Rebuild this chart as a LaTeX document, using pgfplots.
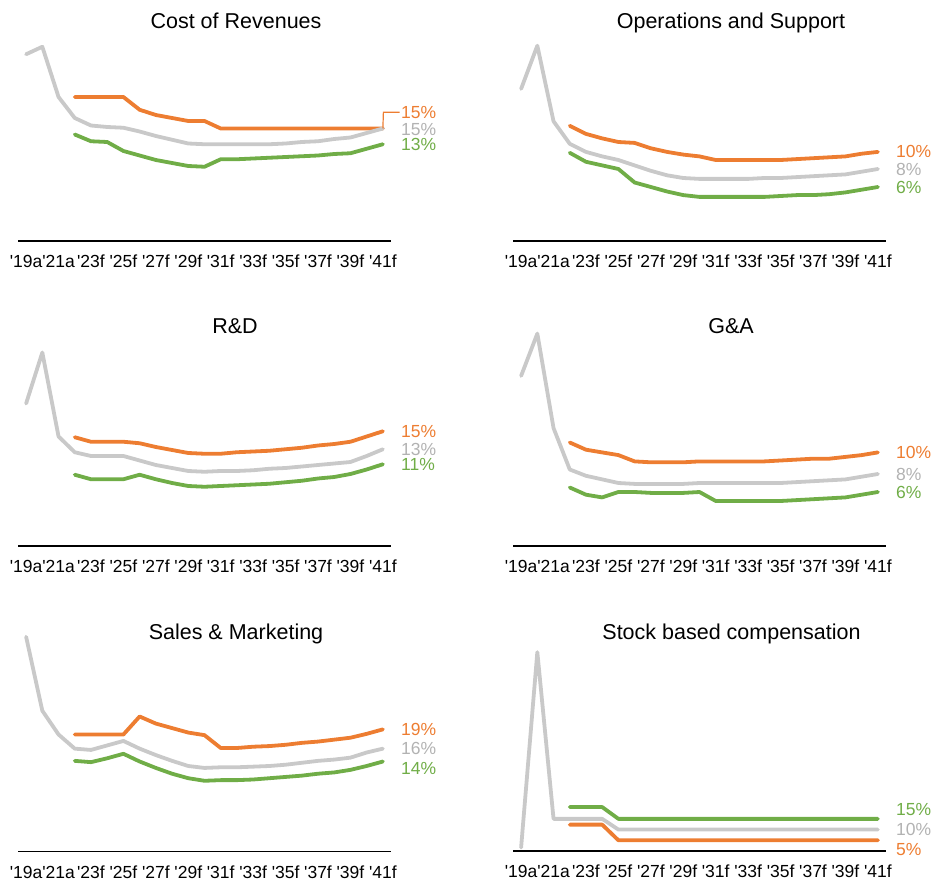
\documentclass[border=0pt]{standalone}
\usepackage{fontspec}
\setmainfont{Liberation Sans}[Ligatures=TeXOff]
\usepackage{pgfplots}
\pgfplotsset{compat=1.18}

\definecolor{orangeC}{HTML}{ED7D31}
\definecolor{greenC}{HTML}{70AD47}
\definecolor{grayC}{HTML}{C9C9C9}
\definecolor{grayT}{HTML}{B2B2B2}

\newcommand\ticksize{\fontsize{17.5}{20}\selectfont}
\newcommand\titlesize{\fontsize{21.5}{25}\selectfont}

% x = 0 is 2019, x = 22 is 2041
\pgfplotsset{
  panel/.style={
    scale only axis, width=373pt, height=225pt,
    anchor=south west, clip=false,
    xmin=-0.5, xmax=22.5, ymin=0,
    axis y line=none, axis x line*=bottom,
    x axis line style={-, black, line width=1.2pt},
    ytick=\empty,
    xtick={0,2,...,22},
    xticklabels={'19a,'21a,'23f,'25f,'27f,'29f,'31f,'33f,'35f,'37f,'39f,'41f},
    major tick length=0pt,
    xticklabel style={anchor=base, yshift=-26.7pt, font=\ticksize, inner sep=0pt},
  },
}
\tikzset{
  gline/.style={line width=3.8pt, line cap=round, line join=round},
  endlab/.style={anchor=west, xshift=18pt, inner sep=0pt, font=\ticksize},
}

\begin{document}
\begin{tikzpicture}
\useasboundingbox (0,0) rectangle (935pt,-882pt);

% ---------- Cost of Revenues ----------
\node[anchor=base, font=\titlesize] at (236pt,-28.3pt) {Cost of Revenues};
\begin{axis}[panel, at={(18pt,-241pt)}, ymax=30]
\addplot[gline, no marks, color=orangeC] coordinates {(3,19.2)(4,19.2)(5,19.2)(6,19.2)(7,17.5)(8,16.8)(9,16.4)(10,16.0)(11,16.0)(12,15.0)(13,15.0)(14,15.0)(15,15.0)(16,15.0)(17,15.0)(18,15.0)(19,15.0)(20,15.0)(21,15.0)(22,15.0)};
\addplot[gline, no marks, color=grayC] coordinates {(0,24.9)(1,25.9)(2,19.2)(3,16.4)(4,15.4)(5,15.2)(6,15.1)(7,14.6)(8,14.0)(9,13.5)(10,13.0)(11,12.9)(12,12.9)(13,12.9)(14,12.9)(15,12.9)(16,13.0)(17,13.2)(18,13.3)(19,13.6)(20,13.8)(21,14.4)(22,15.0)};
\addplot[gline, no marks, color=greenC] coordinates {(3,14.2)(4,13.3)(5,13.2)(6,12.0)(7,11.4)(8,10.8)(9,10.4)(10,10.0)(11,9.9)(12,10.9)(13,10.9)(14,11.0)(15,11.1)(16,11.2)(17,11.3)(18,11.4)(19,11.6)(20,11.7)(21,12.3)(22,12.9)};
% leader from the orange end to its lifted label
\draw[orangeC, line width=1.2pt] (axis cs:22,15.0) -- ++(0.5pt,16.3pt) -- ++(8pt,0);
\node[endlab, text=orangeC, yshift=16.3pt] at (axis cs:22,15.0) {15\%};
\node[endlab, text=grayT, yshift=-1pt] at (axis cs:22,15.0) {15\%};
\node[endlab, text=greenC] at (axis cs:22,12.9) {13\%};
\end{axis}

% ---------- Operations and Support ----------
\node[anchor=base, font=\titlesize] at (731pt,-28.3pt) {Operations and Support};
\begin{axis}[panel, at={(513pt,-241pt)}, ymax=25]
\addplot[gline, no marks, color=grayC] coordinates {(0,16.9)(1,21.7)(2,13.3)(3,10.8)(4,9.9)(5,9.4)(6,9.0)(7,8.4)(8,7.8)(9,7.3)(10,7.0)(11,6.9)(12,6.9)(13,6.9)(14,6.9)(15,7.0)(16,7.0)(17,7.1)(18,7.2)(19,7.3)(20,7.4)(21,7.7)(22,8.0)};
\addplot[gline, no marks, color=orangeC] coordinates {(3,12.8)(4,11.9)(5,11.4)(6,11.0)(7,10.9)(8,10.3)(9,9.9)(10,9.6)(11,9.4)(12,9.0)(13,9.0)(14,9.0)(15,9.0)(16,9.0)(17,9.1)(18,9.2)(19,9.3)(20,9.4)(21,9.7)(22,9.9)};
\addplot[gline, no marks, color=greenC] coordinates {(3,9.8)(4,8.8)(5,8.4)(6,8.0)(7,6.5)(8,6.0)(9,5.5)(10,5.1)(11,4.9)(12,4.9)(13,4.9)(14,4.9)(15,4.9)(16,5.0)(17,5.1)(18,5.1)(19,5.2)(20,5.4)(21,5.7)(22,6.0)};
\node[endlab, text=orangeC] at (axis cs:22,9.9) {10\%};
\node[endlab, text=grayT] at (axis cs:22,8.0) {8\%};
\node[endlab, text=greenC] at (axis cs:22,6.0) {6\%};
\end{axis}

% ---------- R&D ----------
\node[anchor=base, font=\titlesize] at (235pt,-333.3pt) {R\&D};
\begin{axis}[panel, at={(18pt,-546pt)}, ymax=30]
\addplot[gline, no marks, color=grayC] coordinates {(0,19.0)(1,25.8)(2,14.6)(3,12.5)(4,12.0)(5,12.0)(6,12.0)(7,11.4)(8,10.8)(9,10.4)(10,10.0)(11,9.9)(12,10.0)(13,10.0)(14,10.1)(15,10.3)(16,10.4)(17,10.6)(18,10.8)(19,11.0)(20,11.2)(21,12.0)(22,12.9)};
\addplot[gline, no marks, color=orangeC] coordinates {(3,14.5)(4,13.9)(5,13.9)(6,13.9)(7,13.7)(8,13.2)(9,12.8)(10,12.4)(11,12.3)(12,12.3)(13,12.5)(14,12.6)(15,12.7)(16,12.9)(17,13.1)(18,13.4)(19,13.6)(20,13.9)(21,14.6)(22,15.3)};
\addplot[gline, no marks, color=greenC] coordinates {(3,9.5)(4,8.9)(5,8.9)(6,8.9)(7,9.5)(8,8.9)(9,8.4)(10,8.0)(11,7.9)(12,8.0)(13,8.1)(14,8.2)(15,8.3)(16,8.5)(17,8.7)(18,9.0)(19,9.2)(20,9.6)(21,10.2)(22,10.9)};
\node[endlab, text=orangeC] at (axis cs:22,15.3) {15\%};
\node[endlab, text=grayT] at (axis cs:22,12.9) {13\%};
\node[endlab, text=greenC] at (axis cs:22,10.9) {11\%};
\end{axis}

% ---------- G&A ----------
\node[anchor=base, font=\titlesize] at (731pt,-333.3pt) {G\&A};
\begin{axis}[panel, at={(513pt,-546pt)}, ymax=25]
\addplot[gline, no marks, color=grayC] coordinates {(0,18.9)(1,23.6)(2,13.1)(3,8.5)(4,7.8)(5,7.4)(6,7.0)(7,6.9)(8,6.9)(9,6.9)(10,6.9)(11,7.0)(12,7.0)(13,7.0)(14,7.0)(15,7.0)(16,7.0)(17,7.1)(18,7.2)(19,7.3)(20,7.4)(21,7.7)(22,8.0)};
\addplot[gline, no marks, color=orangeC] coordinates {(3,11.5)(4,10.7)(5,10.4)(6,10.1)(7,9.4)(8,9.3)(9,9.3)(10,9.3)(11,9.4)(12,9.4)(13,9.4)(14,9.4)(15,9.4)(16,9.5)(17,9.6)(18,9.7)(19,9.7)(20,9.9)(21,10.1)(22,10.4)};
\addplot[gline, no marks, color=greenC] coordinates {(3,6.5)(4,5.7)(5,5.4)(6,6.0)(7,6.0)(8,5.9)(9,5.9)(10,5.9)(11,6.0)(12,5.0)(13,5.0)(14,5.0)(15,5.0)(16,5.0)(17,5.1)(18,5.2)(19,5.3)(20,5.4)(21,5.7)(22,6.0)};
\node[endlab, text=orangeC] at (axis cs:22,10.4) {10\%};
\node[endlab, text=grayT] at (axis cs:22,8.0) {8\%};
\node[endlab, text=greenC] at (axis cs:22,6.0) {6\%};
\end{axis}

% ---------- Sales & Marketing ----------
\node[anchor=base, font=\titlesize] at (236pt,-639pt) {Sales \& Marketing};
\begin{axis}[panel, at={(18pt,-851.5pt)}, ymax=35]
\addplot[gline, no marks, color=grayC] coordinates {(0,33.4)(1,21.9)(2,18.2)(3,16.0)(4,15.8)(5,16.5)(6,17.2)(7,16.0)(8,15.0)(9,14.1)(10,13.3)(11,13.0)(12,13.1)(13,13.1)(14,13.2)(15,13.3)(16,13.5)(17,13.8)(18,14.1)(19,14.3)(20,14.6)(21,15.4)(22,16.0)};
\addplot[gline, no marks, color=orangeC] coordinates {(3,18.2)(4,18.2)(5,18.2)(6,18.2)(7,21.0)(8,19.9)(9,19.2)(10,18.5)(11,18.1)(12,16.1)(13,16.1)(14,16.3)(15,16.4)(16,16.6)(17,16.9)(18,17.1)(19,17.4)(20,17.7)(21,18.3)(22,19.0)};
\addplot[gline, no marks, color=greenC] coordinates {(3,14.1)(4,13.9)(5,14.5)(6,15.2)(7,14.0)(8,13.0)(9,12.1)(10,11.4)(11,11.0)(12,11.1)(13,11.1)(14,11.2)(15,11.4)(16,11.6)(17,11.8)(18,12.1)(19,12.3)(20,12.7)(21,13.3)(22,14.0)};
\node[endlab, text=orangeC] at (axis cs:22,19.0) {19\%};
\node[endlab, text=grayT] at (axis cs:22,16.0) {16\%};
\node[endlab, text=greenC, yshift=-7pt] at (axis cs:22,14.0) {14\%};
\end{axis}

% ---------- Stock based compensation ----------
\node[anchor=base, font=\titlesize] at (731.5pt,-639pt) {Stock based compensation};
\begin{axis}[panel, at={(513pt,-851pt)}, ymax=105]
\addplot[gline, no marks, color=grayC] coordinates {(0,1.6)(1,92.8)(2,15.0)(3,15.0)(4,15.0)(5,15.0)(6,10.0)(7,10.0)(8,10.0)(9,10.0)(10,10.0)(11,10.0)(12,10.0)(13,10.0)(14,10.0)(15,10.0)(16,10.0)(17,10.0)(18,10.0)(19,10.0)(20,10.0)(21,10.0)(22,10.0)};
\addplot[gline, no marks, color=orangeC] coordinates {(3,12.3)(4,12.3)(5,12.3)(6,5.0)(7,5.0)(8,5.0)(9,5.0)(10,5.0)(11,5.0)(12,5.0)(13,5.0)(14,5.0)(15,5.0)(16,5.0)(17,5.0)(18,5.0)(19,5.0)(20,5.0)(21,5.0)(22,5.0)};
\addplot[gline, no marks, color=greenC] coordinates {(3,20.5)(4,20.5)(5,20.5)(6,15.0)(7,15.0)(8,15.0)(9,15.0)(10,15.0)(11,15.0)(12,15.0)(13,15.0)(14,15.0)(15,15.0)(16,15.0)(17,15.0)(18,15.0)(19,15.0)(20,15.0)(21,15.0)(22,15.0)};
\node[endlab, text=greenC, yshift=9.4pt] at (axis cs:22,15.0) {15\%};
\node[endlab, text=grayT] at (axis cs:22,10.0) {10\%};
\node[endlab, text=orangeC, yshift=-9.3pt] at (axis cs:22,5.0) {5\%};
\end{axis}
\end{tikzpicture}
\end{document}
